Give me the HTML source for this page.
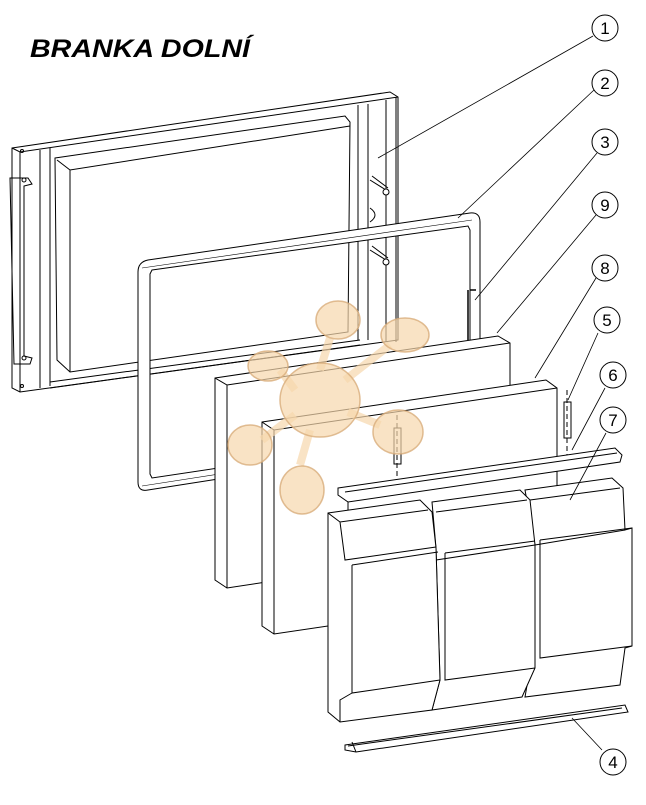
<!DOCTYPE html>
<html><head><meta charset="utf-8"><style>
html,body{margin:0;padding:0;background:#fff;}
svg{display:block;}
</style></head><body>
<svg width="646" height="805" viewBox="0 0 646 805" xmlns="http://www.w3.org/2000/svg" font-family="Liberation Sans, sans-serif">
<rect width="646" height="805" fill="#fff"/>
<text x="30" y="57" font-size="25" font-weight="bold" font-style="italic" fill="#000" textLength="220" lengthAdjust="spacingAndGlyphs">BRANKA DOLNÍ</text>
<g stroke="#000" stroke-width="1" fill="none">
<!-- Frame 1 -->
<path d="M12,148 L390,92 L398,97 L398,340 L20,392 L12,388 Z" fill="#fff"/>
<path d="M12,148 L20,152 L398,97"/>
<path d="M20,152 L20,392"/>
<path d="M40,150 L40,388 M50,148 L50,386"/>
<path d="M55,158 L345,116 L350,122 L348,332 L70,372 L57,360 Z"/>
<path d="M57,160 L70,170 L350,126 M70,170 L70,372"/>
<path d="M50,382 L360,340 M50,388 L360,345"/>
<path d="M358,105 L358,340 M368,104 L368,340 M386,100 L386,342 M396,97 L396,342"/>
<path d="M10,178 L28,178 L32,184 L24,186 L24,356 L32,358 L30,364 L14,364 Z"/>
<circle cx="24" cy="180" r="2"/><circle cx="24" cy="358" r="2"/>
<circle cx="22" cy="151" r="1.5"/><circle cx="22" cy="386" r="1.5"/>
<path d="M370,180 L386,190 M372,176 L388,188"/><circle cx="386" cy="192" r="3" fill="#fff"/>
<path d="M370,250 L386,260 M372,246 L388,258"/><circle cx="386" cy="262" r="3" fill="#fff"/>
<path d="M370,208 Q380,215 370,222"/>
<!-- Frame 2 gasket -->
<path fill="#fff" fill-rule="evenodd" d="M148,260 L470,213 Q480,212 480,222 L480,438 L148,490 Q138,492 138,482 L138,272 Q138,262 148,260 Z M152,270 L468,226 L470,230 L470,430 L152,478 L150,474 L150,274 Z"/>
<path d="M142,268 L472,220 M142,486 L476,434" stroke-width="0.6"/>
<path d="M468,290 L468,340 M470,290 L476,290" stroke-width="1.5"/>
<!-- Panel 9 -->
<path d="M215,378 L498,336 L510,343 L510,545 L227,588 L215,580 Z" fill="#fff"/>
<path d="M215,378 L227,385 L510,343 M227,385 L227,588"/>
<!-- Panel 8 -->
<path d="M262,422 L546,380 L557,388 L557,592 L274,634 L262,626 Z" fill="#fff"/>
<path d="M262,422 L274,430 L557,388 M274,430 L274,634"/>
<!-- Pins -->
<rect x="394" y="428" width="7" height="36" fill="#fff"/><rect x="564" y="402" width="7" height="36" fill="#fff"/>
<path d="M397,415 L397,490 M567,390 L567,462" stroke-dasharray="5,3"/>
<!-- Rail 6 -->
<path d="M338,488 L615,448 L622,455 L620,462 L348,502 L338,495 Z" fill="#fff"/>
<path d="M345,492 L617,453 M348,502 L348,510"/>
<!-- Blocks 7 -->
<path fill="#fff" d="M525,490 L612,478 L623,488 L625,530 L632,528 L632,646 L625,648 L620,685 L525,697 L530,668 L535,545 Z"/>
<path d="M530,500 L620,488 M535,545 L625,530 M540,540 L632,528 M540,540 L540,658 L632,646"/>
<path fill="#fff" d="M432,502 L520,490 L530,500 L535,545 L535,668 L522,697 L432,710 L440,680 L436,548 Z"/>
<path d="M436,512 L527,500 M436,560 L535,545 M445,553 L535,541 M445,553 L445,680 L535,668"/>
<path fill="#fff" d="M328,513 L420,500 L432,512 L436,548 L440,680 L432,710 L340,722 L328,712 Z"/>
<path d="M328,513 L340,522 L428,510 M340,522 L345,560 L436,547 M352,565 L438,552 M352,565 L352,693 L440,680 M340,722 L340,700 L352,693"/>
<!-- Rail 4 -->
<path d="M345,745 L625,705 L628,712 L356,752 L345,750 Z" fill="#fff"/>
<path d="M348,746 L622,708 M356,752 L352,742"/>
</g>
<!-- Watermark -->
<g fill="#f6d7ac" fill-opacity="0.7" stroke="#d8ad7a" stroke-opacity="0.8" stroke-width="1.5">
<path d="M330,338 L320,370 M390,345 L345,380 M280,370 L295,390 M262,440 L295,415 M300,465 L310,430 M380,425 L348,412" stroke-width="8" stroke="#f6d7ac" stroke-opacity="0.7"/>
<ellipse cx="338" cy="320" rx="22" ry="19"/>
<ellipse cx="405" cy="335" rx="24" ry="17"/>
<ellipse cx="268" cy="366" rx="20" ry="15"/>
<ellipse cx="250" cy="445" rx="22" ry="20"/>
<ellipse cx="302" cy="490" rx="22" ry="24"/>
<ellipse cx="398" cy="432" rx="25" ry="22"/>
<ellipse cx="320" cy="400" rx="40" ry="37"/>
</g>
<path d="M378,158 L593,36 M458,218 L594,90 M475,300 L597,153 M497,333 L596,215 M535,378 L596,278 M568,400 L598,333 M572,450 L605,388 M570,500 L606,433 M572,718 L602,750" stroke="#000" stroke-width="0.8" fill="none"/>
<!-- Callouts -->
<g fill="#fff" stroke="#000" stroke-width="1">
<circle cx="605" cy="28" r="13"/><circle cx="605" cy="83" r="13"/><circle cx="605" cy="142" r="13"/>
<circle cx="605" cy="205" r="13"/><circle cx="605" cy="268" r="13"/><circle cx="607" cy="320" r="13"/>
<circle cx="613" cy="375" r="13"/><circle cx="613" cy="420" r="13"/><circle cx="613" cy="762" r="13"/>
</g>
<g font-size="17" text-anchor="middle" fill="#000">
<text x="605" y="34">1</text><text x="605" y="89">2</text><text x="605" y="148">3</text>
<text x="605" y="211">9</text><text x="605" y="274">8</text><text x="607" y="326">5</text>
<text x="613" y="381">6</text><text x="613" y="426">7</text><text x="613" y="768">4</text>
</g>
</svg>
</body></html>
